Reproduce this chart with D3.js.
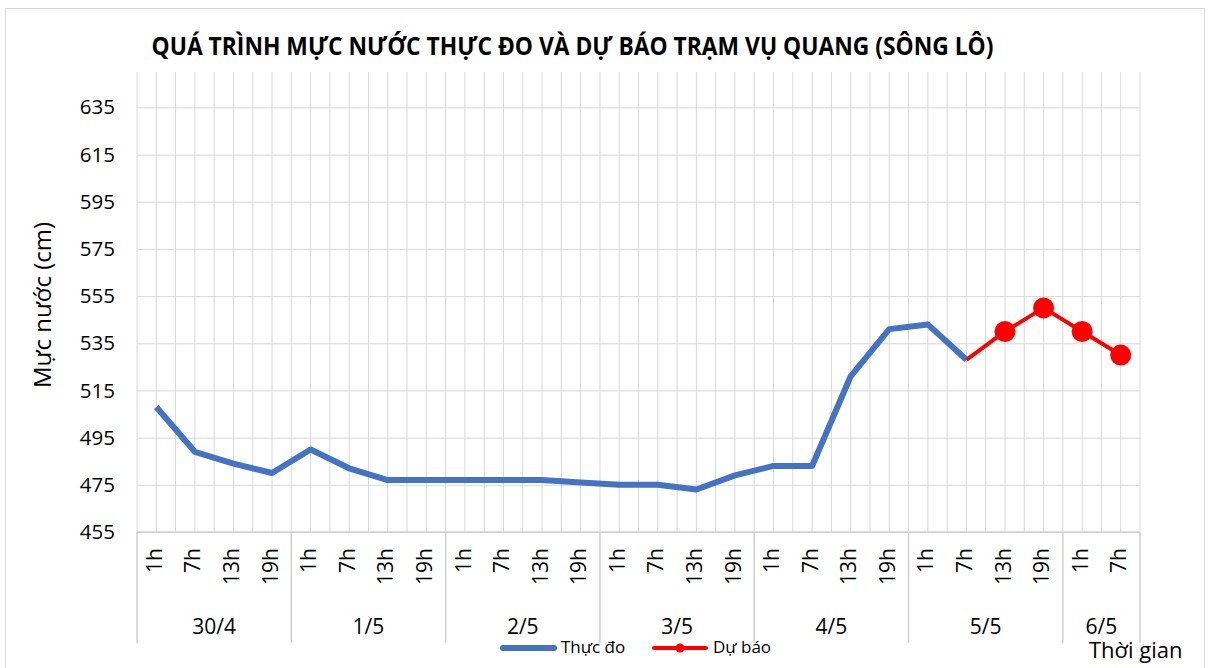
<!DOCTYPE html>
<html>
<head>
<meta charset="utf-8">
<script src="https://cdn.jsdelivr.net/npm/d3@7"></script>
<style>
  html, body { margin: 0; padding: 0; background: #fff; }
  text { font-family: "Open Sans", "Noto Sans", sans-serif; fill: #000; }
</style>
</head>
<body>
<div id="chart"></div>
<script>
// Water level at Vu Quang station, observed and forecast

// Hour of each point (x axis, lower row)
const hourLabels = ["1h", "7h", "13h", "19h", "1h", "7h", "13h", "19h", "1h", "7h", "13h", "19h",
                    "1h", "7h", "13h", "19h", "1h", "7h", "13h", "19h", "1h", "7h", "13h", "19h",
                    "1h", "7h"];
// Day groups (x axis, upper row) and how many hours each holds
const dayLabels = ["30/4", "1/5", "2/5", "3/5", "4/5", "5/5", "6/5"];
const dayCounts = [4, 4, 4, 4, 4, 4, 2];

// Observed level (cm)
const observed = [508, 489, 484, 480, 490, 482, 477, 477, 477, 477, 477, 476,
                  475, 475, 473, 479, 483, 483, 521, 541, 543, 528, null, null, null, null];
// Forecast level (cm), starting from the last observation
const forecast = [null, null, null, null, null, null, null, null, null, null, null, null,
                  null, null, null, null, null, null, null, null, null, 528, 540, 550, 540, 530];

const yTicks = [455, 475, 495, 515, 535, 555, 575, 595, 615, 635];

let width = 1209, height = 668;
let margin = {top: 72, right: 69, bottom: 136, left: 137};
let plotW = width - margin.left - margin.right,
    plotH = height - margin.top - margin.bottom;

let svg = d3.select("#chart").append("svg")
    .attr("width", width)
    .attr("height", height);

// Outer chart border
svg.append("rect")
    .attr("x", 5.5).attr("y", 8.5)
    .attr("width", 1199).attr("height", 700)
    .attr("fill", "none")
    .attr("stroke", "#d9d9d9");

let g = svg.append("g")
    .attr("transform", "translate(" + margin.left + "," + margin.top + ")");

let idx = hourLabels.map((d, i) => i);

let x = d3.scaleBand()
    .domain(idx)
    .range([0, plotW])
    .padding(0);

let y = d3.scaleLinear()
    .domain([455, 650])
    .range([plotH, 0]);

// Vertical gridlines at every category edge and centre
let vLines = [];
idx.forEach(i => { vLines.push(x(i)); vLines.push(x(i) + x.bandwidth() / 2); });
vLines.push(plotW);
g.selectAll(".vgrid")
    .data(vLines)
    .enter().append("line")
    .attr("x1", d => d).attr("x2", d => d)
    .attr("y1", 0).attr("y2", plotH)
    .attr("stroke", "#d9d9d9")
    .attr("stroke-width", 1);

// Horizontal gridlines and y labels
let yAxis = d3.axisLeft(y)
    .tickValues(yTicks)
    .tickSize(-plotW)
    .tickPadding(22)
    .tickFormat(d3.format("d"));
let yG = g.append("g").call(yAxis);
yG.select(".domain").remove();
yG.selectAll(".tick line").attr("stroke", "#d9d9d9");
yG.selectAll(".tick text")
    .style("font-size", "20.5px")
    .attr("fill", "#000");

// Bottom axis line
g.append("line")
    .attr("x1", 0).attr("x2", plotW)
    .attr("y1", plotH).attr("y2", plotH)
    .attr("stroke", "#d0d0d0")
    .attr("stroke-width", 1.5);

// Hour labels (rotated)
g.selectAll(".hour")
    .data(hourLabels)
    .enter().append("text")
    .attr("transform", (d, i) => "translate(" + (x(i) + x.bandwidth() / 2) + "," + (plotH + 16) + ") rotate(-90)")
    .attr("text-anchor", "end")
    .attr("dominant-baseline", "middle")
    .style("font-size", "21px")
    .text(d => d);

// Day group separators and labels
let starts = [];
let acc = 0;
dayCounts.forEach(c => { starts.push(acc); acc += c; });
let sepX = starts.map(s => x(s)).concat([plotW]);
g.selectAll(".sep")
    .data(sepX)
    .enter().append("line")
    .attr("x1", d => d).attr("x2", d => d)
    .attr("y1", plotH).attr("y2", plotH + 111)
    .attr("stroke", "#d0d0d0")
    .attr("stroke-width", 1.5);
g.selectAll(".day")
    .data(dayLabels)
    .enter().append("text")
    .attr("x", (d, i) => x(starts[i]) + dayCounts[i] * x.bandwidth() / 2)
    .attr("y", plotH + 96)
    .attr("text-anchor", "middle")
    .attr("dominant-baseline", "middle")
    .style("font-size", "21px")
    .text(d => d);

// Observed line
let line = d3.line()
    .defined(d => d != null)
    .x((d, i) => x(i) + x.bandwidth() / 2)
    .y(d => y(d));

g.append("path")
    .datum(observed)
    .attr("fill", "none")
    .attr("stroke", "#4472C4")
    .attr("stroke-width", 6)
    .attr("stroke-linejoin", "round")
    .attr("d", line);

// Forecast line with markers (no marker on the shared first point)
g.append("path")
    .datum(forecast)
    .attr("fill", "none")
    .attr("stroke", "#FF0000")
    .attr("stroke-width", 4)
    .attr("stroke-linejoin", "round")
    .attr("d", line);

g.selectAll(".fdot")
    .data(forecast.map((v, i) => ({v: v, i: i})).filter(d => d.v != null && observed[d.i] == null))
    .enter().append("circle")
    .attr("cx", d => x(d.i) + x.bandwidth() / 2)
    .attr("cy", d => y(d.v))
    .attr("r", 10.5)
    .attr("fill", "#FF0000");

// Title
svg.append("text")
    .attr("x", 572.5)
    .attr("y", 55)
    .attr("text-anchor", "middle")
    .attr("textLength", 842)
    .attr("lengthAdjust", "spacingAndGlyphs")
    .style("font-size", "25px")
    .style("font-weight", "bold")
    .text("QUÁ TRÌNH MỰC NƯỚC THỰC ĐO VÀ DỰ BÁO TRẠM VỤ QUANG (SÔNG LÔ)");

// Y axis title
svg.append("text")
    .attr("transform", "translate(45,305) rotate(-90)")
    .attr("text-anchor", "middle")
    .attr("dominant-baseline", "middle")
    .style("font-size", "24px")
    .text("Mực nước (cm)");

// X axis title
svg.append("text")
    .attr("x", 1089)
    .attr("y", 658)
    .style("font-size", "22px")
    .text("Thời gian");

// Legend
let legend = svg.append("g");
legend.append("line")
    .attr("x1", 503).attr("x2", 554)
    .attr("y1", 648).attr("y2", 648)
    .attr("stroke", "#4472C4")
    .attr("stroke-width", 6)
    .attr("stroke-linecap", "round");
legend.append("text")
    .attr("x", 561).attr("y", 648)
    .attr("dominant-baseline", "middle")
    .style("font-size", "17px")
    .text("Thực đo");
legend.append("line")
    .attr("x1", 654).attr("x2", 706)
    .attr("y1", 648).attr("y2", 648)
    .attr("stroke", "#FF0000")
    .attr("stroke-width", 4)
    .attr("stroke-linecap", "round");
legend.append("circle")
    .attr("cx", 680).attr("cy", 648)
    .attr("r", 4.5)
    .attr("fill", "#FF0000");
legend.append("text")
    .attr("x", 713).attr("y", 648)
    .attr("dominant-baseline", "middle")
    .style("font-size", "17px")
    .text("Dự báo");
</script>
</body>
</html>
